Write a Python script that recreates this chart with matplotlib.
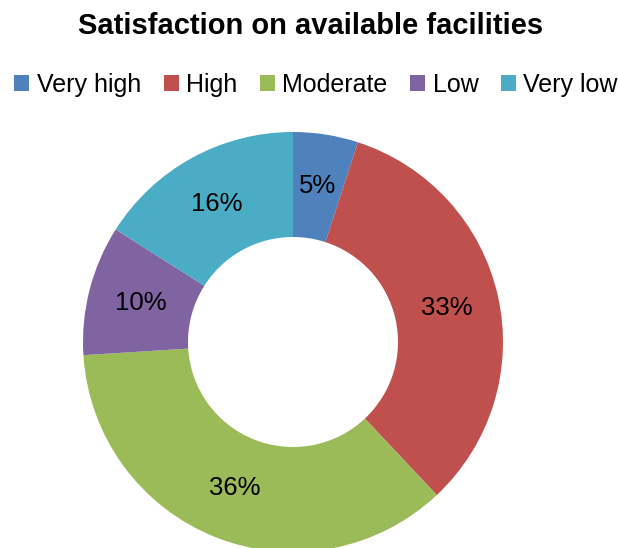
import matplotlib
matplotlib.use('Agg')
import matplotlib.pyplot as plt
from matplotlib.patches import Patch

plt.rcParams['font.family'] = ['Liberation Sans', 'DejaVu Sans']

categories = ['Very high', 'High', 'Moderate', 'Low', 'Very low']
shares = [5, 33, 36, 10, 16]
colors = ['#4F81BD', '#C0504D', '#9BBB59', '#8064A2', '#4BACC6']

W, H = 618, 548
cx, cy, r = 293, 342, 210

fig = plt.figure(figsize=(W / 100, H / 100), dpi=100)
ax = fig.add_axes([0, 0, 1, 1])

ax.pie(shares, colors=colors, startangle=90, counterclock=False,
       radius=1.0, autopct='%d%%', pctdistance=0.75,
       wedgeprops={'width': 0.5, 'linewidth': 0},
       textprops={'fontsize': 18.5, 'color': 'black'})

ax.set_xlim(-cx / r, (W - cx) / r)
ax.set_ylim(-(H - cy) / r, cy / r)
ax.set_aspect('auto')
ax.axis('off')

fig.text(311 / W, 1 - 26 / H, 'Satisfaction on available facilities',
         ha='center', va='center', fontsize=21, fontweight='bold')

handles = [Patch(facecolor=c, edgecolor='none') for c in colors]
fig.legend(handles, categories, loc='center', bbox_to_anchor=(316 / W, 1 - 85 / H),
           ncol=5, frameon=False, fontsize=18, handlelength=0.6, handleheight=0.6,
           handletextpad=0.3, columnspacing=0.9, borderpad=0)

fig.savefig('out.png', dpi=100)
